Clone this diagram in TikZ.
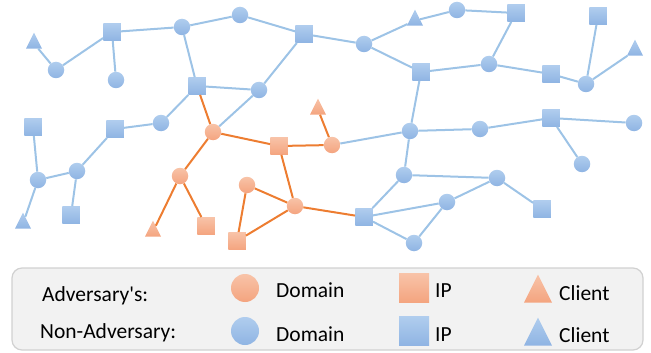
\documentclass[tikz,border=0pt]{standalone}
\usepackage{fontspec}
\setmainfont{Carlito}[Ligatures=TeXOff]
\usepackage{xcolor}
\usepackage{tikz}
\usetikzlibrary{positioning, shapes.geometric}

\definecolor{bluetop}{HTML}{B0CDEE}
\definecolor{bluebot}{HTML}{8FB4E3}
\definecolor{orgtop}{HTML}{F8C3A8}
\definecolor{orgbot}{HTML}{F4A47F}
\definecolor{blueline}{HTML}{9DC3E6}
\definecolor{orgline}{HTML}{ED7D31}

\begin{document}
\begin{tikzpicture}[x=1pt, y=-1pt, dom/.style ={circle, inner sep=0, minimum size=16.5pt}, ip/.style={rectangle, inner sep=0, minimum size=17.5pt}, cli/.style={isosceles triangle, isosceles triangle stretches, shape border rotate=90, inner sep=0, minimum width=16pt, minimum height=16pt, anchor=apex}, nadv/.style={top color=bluetop, bottom color=bluebot}, adv/.style={top color=orgtop, bottom color=orgbot}, nl/.style={draw=blueline, line width=2pt}, al/.style={draw=orgline, line width=2pt}, txt/.style={font=\fontsize{21.5}{24}\selectfont, inner sep=0, anchor=base west}]
\useasboundingbox (0,0) rectangle (651,353);
\node[cli, nadv] (T1) at (34,32) {};
\node[dom, nadv] (D1) at (56,70) {};
\node[ip, nadv] (S1) at (112,32) {};
\node[dom, nadv] (D2) at (116,80) {};
\node[dom, nadv] (D3) at (182,27) {};
\node[dom, nadv] (D4) at (240,15) {};
\node[ip, nadv] (S2) at (304,34) {};
\node[dom, nadv] (D5) at (364,44) {};
\node[cli, nadv] (T2) at (415,9) {};
\node[dom, nadv] (D6) at (457,10) {};
\node[ip, nadv] (S3) at (516,13) {};
\node[ip, nadv] (S4) at (421,72) {};
\node[dom, nadv] (D7) at (489,64) {};
\node[ip, nadv] (S5) at (551,74) {};
\node[dom, nadv] (D8) at (586,84) {};
\node[ip, nadv] (S6) at (598,16) {};
\node[cli, nadv] (T3) at (635,39) {};
\node[ip, nadv] (S7) at (197,86) {};
\node[dom, nadv] (D9) at (259,90) {};
\node[ip, nadv] (S8) at (33,127) {};
\node[ip, nadv] (S9) at (115,129) {};
\node[dom, nadv] (D10) at (161,123) {};
\node[dom, nadv] (D11) at (38,180) {};
\node[dom, nadv] (D12) at (77,171) {};
\node[cli, nadv] (T4) at (23,212) {};
\node[ip, nadv] (S10) at (71,215) {};
\node[dom, nadv] (D13) at (410,131) {};
\node[dom, nadv] (D14) at (480,129) {};
\node[ip, nadv] (S11) at (551,118) {};
\node[dom, nadv] (D15) at (634,123) {};
\node[dom, nadv] (D16) at (582,164) {};
\node[dom, nadv] (D17) at (404,175) {};
\node[dom, nadv] (D18) at (497,178) {};
\node[ip, nadv] (S12) at (542,209) {};
\node[dom, nadv] (D19) at (447,202) {};
\node[ip, nadv] (S13) at (364,217) {};
\node[dom, nadv] (D20) at (414,243) {};
\node[dom, adv] (A1) at (213,132) {};
\node[ip, adv] (A2) at (279,146) {};
\node[dom, adv] (A3) at (332,145) {};
\node[cli, adv] (AT1) at (318,98) {};
\node[dom, adv] (A4) at (180,176) {};
\node[cli, adv] (AT2) at (153,220) {};
\node[ip, adv] (AS1) at (206,226) {};
\node[dom, adv] (A5) at (247,185) {};
\node[dom, adv] (A6) at (295,206) {};
\node[ip, adv] (AS2) at (237,241) {};
\path[nl] (T1) edge (D1) (D1) edge (S1) (S1) edge (D2) (S1) edge (D3)
(D3) edge (D4) (D3) edge (S7) (D4) edge (S2) (S2) edge (D9) (S2) edge (D5)
(D5) edge (T2) (T2) edge (D6) (D6) edge (S3) (S3) edge (D7) (D5) edge (S4)
(S4) edge (D7) (D7) edge (S5) (S5) edge (D8) (D8) edge (S6) (D8) edge (T3)
(S7) edge (D9) (S7) edge (D10) (D10) edge (S9) (S9) edge (D12) (D12) edge (D11)
(D11) edge (S8) (D11) edge (T4) (D12) edge (S10) (D9) edge (A1)
(S4) edge (D13) (A3) edge (D13) (D13) edge (D14) (D14) edge (S11) (S11) edge (D15)
(S11) edge (D16) (D13) edge (D17) (D17) edge (D18) (D18) edge (S12) (D17) edge (S13)
(S13) edge (D19) (D19) edge (D18) (D19) edge (D20) (S13) edge (D20);
\path[al] (S7) edge (A1) (A1) edge (A4) (A4) edge (AT2) (A4) edge (AS1)
(A1) edge (A2) (A2) edge (A3) (A3) edge (AT1) (A2) edge (A6)
(A5) edge (A6) (A5) edge (AS2) (AS2) edge (A6) (A6) edge (S13);
\node[draw=black!18, fill=black!5, line width=1.2pt, rounded corners=10pt, minimum width=631pt, minimum height=82pt] (legend) at (327.5,309) {};
\node[txt] (advlab) at (42,301) {Adversary's:};
\node[txt] (nadvlab) at (40,338) {Non-Adversary:};
\node[circle, adv, minimum size=28pt] (LD1) at (245,288) {};
\node[circle, nadv, minimum size=28pt] (LD2) at (245,331) {};
\node[txt] (ldt1) at (276,297) {Domain};
\node[txt] (ldt2) at (276,341) {Domain};
\node[rectangle, adv, minimum width=30pt, minimum height=29pt] (LS1) at (414,288) {};
\node[rectangle, nadv, minimum width=30pt, minimum height=29pt] (LS2) at (414,331) {};
\node[txt] (lst1) at (435,297) {IP};
\node[txt] (lst2) at (435,341) {IP};
\node[cli, adv, minimum width=28pt, minimum height=28pt] (LT1) at (538,274) {};
\node[cli, nadv, minimum width=28pt, minimum height=28pt] (LT2) at (538,317) {};
\node[txt] (ltt1) at (559,300) {Client};
\node[txt] (ltt2) at (559,342) {Client};
\end{tikzpicture}
\end{document}
